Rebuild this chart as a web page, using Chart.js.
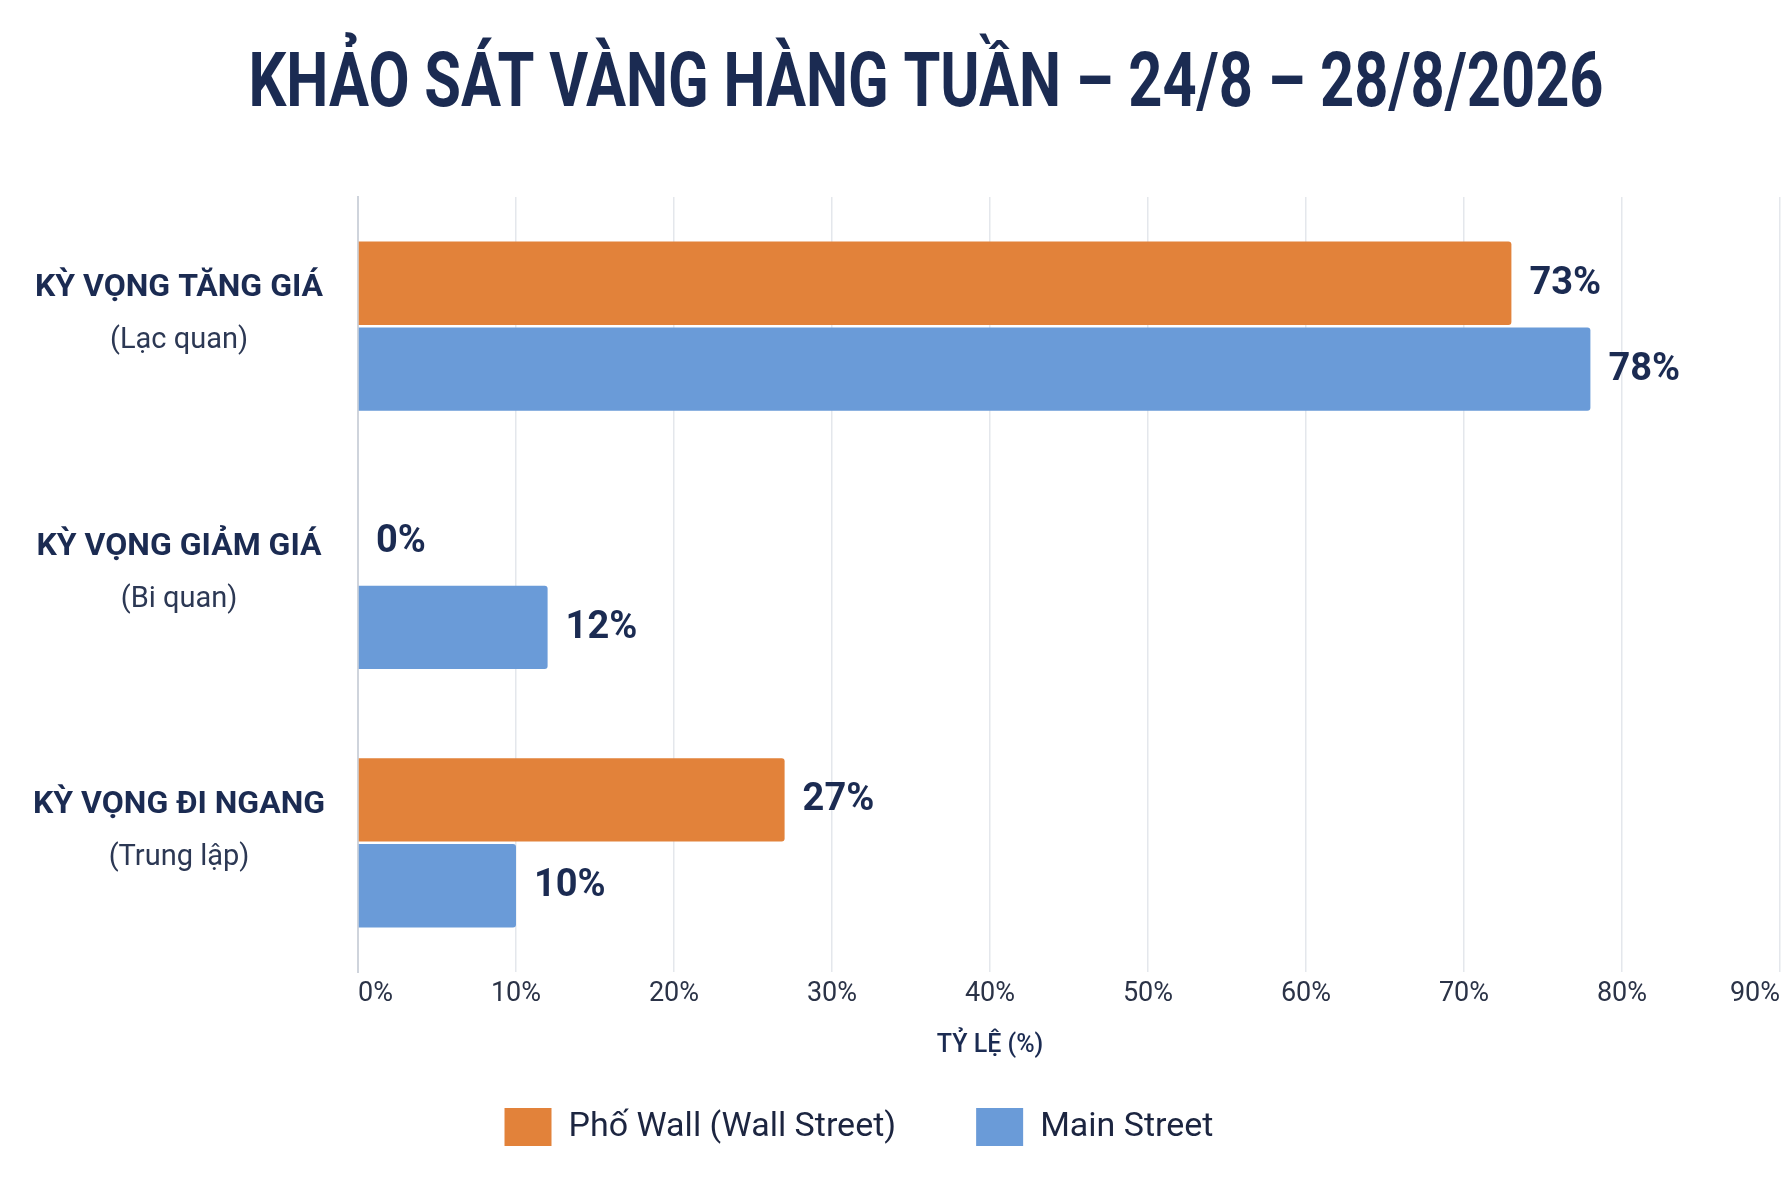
<!DOCTYPE html>
<html>
<head>
<meta charset="utf-8">
<script src="https://cdn.jsdelivr.net/npm/chart.js@4.4.1/dist/chart.umd.min.js"></script>
<style>
html,body{margin:0;padding:0;background:#ffffff;}
#wrap{width:1786px;height:1182px;position:relative;}
</style>
</head>
<body>
<div id="wrap"><canvas id="c"></canvas></div>
<script>
// ---- data ----
const chartTitle = 'KHẢO SÁT VÀNG HÀNG TUẦN – 24/8 – 28/8/2026';
const categoryNames = ['KỲ VỌNG TĂNG GIÁ', 'KỲ VỌNG GIẢM GIÁ', 'KỲ VỌNG ĐI NGANG'];
const categoryNotes = ['(Lạc quan)', '(Bi quan)', '(Trung lập)'];
const seriesNames = ['Phố Wall (Wall Street)', 'Main Street'];
const wallStreetValues = [73, 0, 27];
const mainStreetValues = [78, 12, 10];
const xAxisMin = 0;
const xAxisMax = 90;
const xAxisStep = 10;
const xAxisTitle = 'TỶ LỆ (%)';

// ---- styles ----
const NAVY = '#1b2b52';
const ORANGE = '#e2823a';
const BLUE = '#6a9bd8';
const SANS = "Roboto, 'Noto Sans', sans-serif";

// condensed bold title drawn in the space reserved above the plot
const titlePlugin = {
  id: 'condensedTitle',
  afterDraw(chart) {
    const ctx = chart.ctx;
    ctx.save();
    ctx.font = 'bold 76px ' + SANS;
    ctx.fillStyle = NAVY;
    ctx.textAlign = 'center';
    ctx.textBaseline = 'alphabetic';
    const w = ctx.measureText(chartTitle).width;
    const sx = 1355 / w;
    ctx.translate(926, 106);
    ctx.scale(sx, 1);
    ctx.fillText(chartTitle, 0, 0);
    ctx.restore();
  }
};

const valueLabels = {
  id: 'valueLabels',
  afterDatasetsDraw(chart) {
    const ctx = chart.ctx;
    ctx.save();
    ctx.font = 'bold 38px ' + SANS;
    ctx.fillStyle = NAVY;
    ctx.textAlign = 'left';
    ctx.textBaseline = 'middle';
    chart.data.datasets.forEach((ds, di) => {
      const meta = chart.getDatasetMeta(di);
      meta.data.forEach((el, i) => {
        ctx.fillText(ds.data[i] + '%', el.x + 18, el.y + 1);
      });
    });
    ctx.restore();
  }
};

const categoryLabels = {
  id: 'categoryLabels',
  afterDraw(chart) {
    const ctx = chart.ctx;
    const y = chart.scales.y;
    const cx = y.left + (y.right - y.left) / 2;
    ctx.save();
    ctx.textAlign = 'center';
    ctx.textBaseline = 'middle';
    categoryNames.forEach((name, i) => {
      const py = y.getPixelForValue(i);
      ctx.font = 'bold 32px ' + SANS;
      ctx.fillStyle = NAVY;
      ctx.fillText(name, cx, py - 38);
      ctx.font = '29px ' + SANS;
      ctx.fillStyle = '#2c3854';
      ctx.fillText(categoryNotes[i], cx, py + 15);
    });
    // x axis title
    const x = chart.scales.x;
    const tx = (x.getPixelForValue(xAxisMin) + x.getPixelForValue(80)) / 2;
    ctx.font = '500 25px ' + SANS;
    ctx.fillStyle = NAVY;
    ctx.fillText(xAxisTitle, tx, 1046);
    ctx.restore();
  }
};

// nudge the legend block slightly left, as in the reference
const legendShift = {
  id: 'legendShift',
  afterLayout(chart) {
    if (chart.legend) {
      chart.legend.left -= 34;
      chart.legend.right -= 34;
    }
  }
};

const bgPlugin = {
  id: 'bg',
  beforeDraw(chart) {
    const ctx = chart.ctx;
    ctx.save();
    ctx.fillStyle = '#ffffff';
    ctx.fillRect(0, 0, chart.width, chart.height);
    ctx.restore();
  }
};

new Chart(document.getElementById('c'), {
  type: 'bar',
  data: {
    labels: categoryNames,
    datasets: [
      { label: seriesNames[0], data: wallStreetValues, backgroundColor: ORANGE, borderRadius: 3,
        barPercentage: 0.97, categoryPercentage: 0.665 },
      { label: seriesNames[1], data: mainStreetValues, backgroundColor: BLUE, borderRadius: 3,
        barPercentage: 0.97, categoryPercentage: 0.665 }
    ]
  },
  options: {
    indexAxis: 'y',
    responsive: true,
    maintainAspectRatio: false,
    animation: false,
    devicePixelRatio: 1,
    layout: { padding: { left: 0, right: 0, top: 197, bottom: 26 } },
    scales: {
      x: {
        min: xAxisMin,
        max: xAxisMax,
        border: { display: false },
        grid: { color: '#e4e7ec', lineWidth: 1.5, drawTicks: false },
        ticks: {
          stepSize: xAxisStep,
          align: 'inner',
          padding: 6,
          color: '#2b3347',
          font: { family: SANS, size: 27 },
          callback: v => v + '%'
        },
        afterFit: s => { s.height = 56; }
      },
      y: {
        border: { display: true, color: '#cfd4dc', width: 2 },
        grid: { display: false },
        ticks: { display: false },
        afterFit: s => { s.width = 358; }
      }
    },
    plugins: {
      title: { display: false },
      legend: {
        position: 'bottom',
        labels: {
          boxWidth: 47,
          boxHeight: 38,
          padding: 80,
          color: '#1c2540',
          font: { family: SANS, size: 34 }
        }
      },
      tooltip: { enabled: false }
    }
  },
  plugins: [bgPlugin, legendShift, valueLabels, categoryLabels, titlePlugin]
});
</script>
</body>
</html>
